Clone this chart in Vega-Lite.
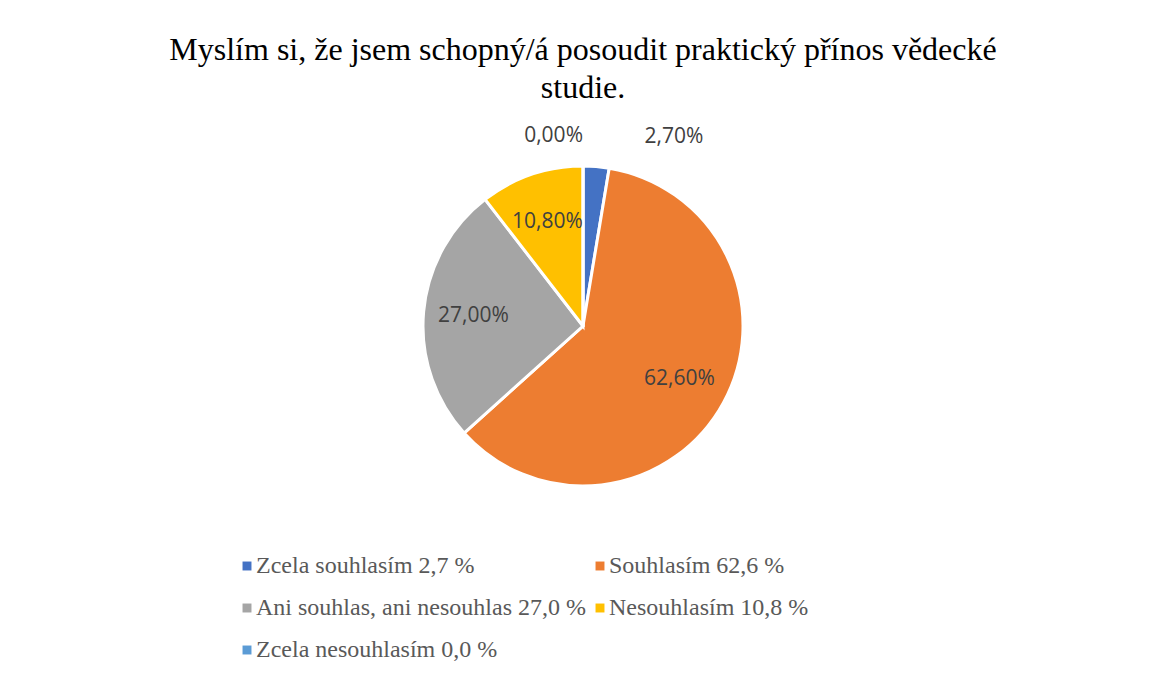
{
  "$schema": "https://vega.github.io/schema/vega-lite/v6.json",
  "autosize": "none",
  "width": 1132,
  "height": 412,
  "padding": {"left": 17, "top": 120, "right": 0, "bottom": 143},
  "background": "white",
  "config": {"view": {"stroke": null}},
  "title": {
    "text": ["Myslím si, že jsem schopný/á posoudit praktický přínos vědecké", "studie."],
    "font": "Liberation Serif",
    "fontSize": 32,
    "fontWeight": "normal",
    "color": "#000000",
    "lineHeight": 38,
    "anchor": "middle",
    "offset": 15
  },
  "data": {
    "values": [
      {"poradi": 1, "kategorie": "Zcela souhlasím 2,7 %", "podil": 2.7, "popisek": "2,70%"},
      {"poradi": 2, "kategorie": "Souhlasím 62,6 %", "podil": 62.6, "popisek": "62,60%"},
      {"poradi": 3, "kategorie": "Ani souhlas, ani nesouhlas 27,0 %", "podil": 27.0, "popisek": "27,00%"},
      {"poradi": 4, "kategorie": "Nesouhlasím 10,8 %", "podil": 10.8, "popisek": "10,80%"},
      {"poradi": 5, "kategorie": "Zcela nesouhlasím 0,0 %", "podil": 0.0, "popisek": "0,00%"}
    ]
  },
  "encoding": {
    "theta": {"field": "podil", "type": "quantitative", "stack": true},
    "order": {"field": "poradi", "type": "quantitative", "sort": "ascending"}
  },
  "layer": [
    {
      "mark": {"type": "arc", "outerRadius": 160, "stroke": "white", "strokeWidth": 3},
      "encoding": {
        "color": {
          "field": "kategorie",
          "type": "nominal",
          "scale": {
            "domain": ["Zcela souhlasím 2,7 %", "Souhlasím 62,6 %", "Ani souhlas, ani nesouhlas 27,0 %", "Nesouhlasím 10,8 %", "Zcela nesouhlasím 0,0 %"],
            "range": ["#4472C4", "#ED7D31", "#A5A5A5", "#FFC000", "#5B9BD5"]
          },
          "legend": {
            "title": null,
            "orient": "none",
            "legendX": 218,
            "legendY": 434,
            "direction": "horizontal",
            "columns": 2,
            "columnPadding": 2,
            "rowPadding": 18,
            "padding": 0,
            "symbolType": "square",
            "symbolSize": 80,
            "symbolStrokeWidth": 0,
            "labelFont": "Liberation Serif",
            "labelFontSize": 24,
            "labelColor": "#595959",
            "labelLimit": 600,
            "labelOffset": -3
          }
        }
      }
    },
    {
      "mark": {"type": "text", "radius": 110, "font": "Open Sans", "fontSize": 21, "color": "#404040"},
      "encoding": {
        "text": {"field": "popisek"},
        "opacity": {"condition": {"test": "datum.podil >= 5", "value": 1}, "value": 0}
      }
    },
    {
      "mark": {"type": "text", "radius": 190, "align": "left", "dx": 46, "font": "Open Sans", "fontSize": 21, "color": "#404040"},
      "encoding": {
        "text": {"field": "popisek"},
        "opacity": {"condition": {"test": "datum.podil > 0 && datum.podil < 5", "value": 1}, "value": 0}
      }
    },
    {
      "mark": {"type": "text", "radius": 190, "align": "right", "font": "Open Sans", "fontSize": 21, "color": "#404040"},
      "encoding": {
        "text": {"field": "popisek"},
        "opacity": {"condition": {"test": "datum.podil == 0", "value": 1}, "value": 0}
      }
    }
  ]
}
